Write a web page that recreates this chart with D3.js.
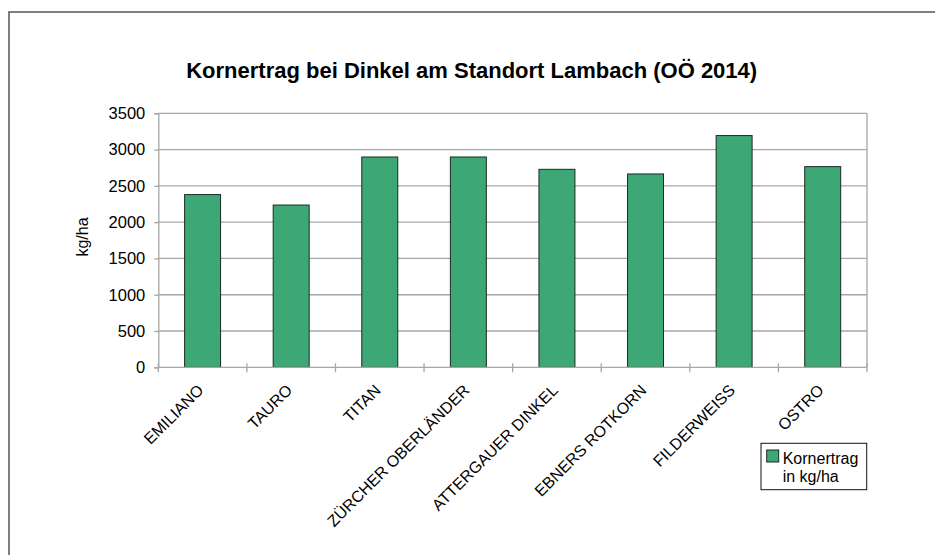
<!DOCTYPE html>
<html>
<head>
<meta charset="utf-8">
<script src="https://cdn.jsdelivr.net/npm/d3@7"></script>
<style>
  html, body { margin: 0; padding: 0; background: #fff; }
  svg { display: block; font-family: "Liberation Sans", Arial, sans-serif; }
</style>
</head>
<body>
<svg id="chart" width="935" height="555"></svg>
<script>
const categories = ["EMILIANO", "TAURO", "TITAN", "ZÜRCHER OBERLÄNDER", "ATTERGAUER DINKEL", "EBNERS ROTKORN", "FILDERWEISS", "OSTRO"];
const values = [2380, 2236, 2898, 2898, 2728, 2664, 3193, 2765];
const yTicks = [0, 500, 1000, 1500, 2000, 2500, 3000, 3500];
const title = "Kornertrag bei Dinkel am Standort Lambach (OÖ 2014)";
const yLabel = "kg/ha";
const legendLines = ["Kornertrag", "in kg/ha"];

const svg = d3.select("#chart");
const plot = { left: 158.3, right: 867, top: 113.3, bottom: 367.3 };

// outer frame (extends beyond viewport on right/bottom)
svg.append("rect")
  .attr("x", 9).attr("y", 12).attr("width", 960).attr("height", 600)
  .attr("fill", "none").attr("stroke", "#555").attr("stroke-width", 1.5);

svg.append("text")
  .attr("x", 471.7).attr("y", 77.5)
  .attr("text-anchor", "middle")
  .attr("font-size", 22).attr("font-weight", "bold").attr("fill", "#000")
  .text(title);

const x = d3.scaleBand().domain(categories).range([plot.left, plot.right])
  .paddingInner(0.594).paddingOuter(0.297);
const y = d3.scaleLinear().domain([0, 3500]).range([plot.bottom, plot.top]);

// gridlines
svg.append("g").selectAll("line").data(yTicks.filter(d => d > 0)).join("line")
  .attr("x1", plot.left).attr("x2", plot.right)
  .attr("y1", d => y(d)).attr("y2", d => y(d))
  .attr("stroke", "#a6a6a6").attr("stroke-width", 1.3);

// right border of plot area
svg.append("line")
  .attr("x1", plot.right).attr("x2", plot.right)
  .attr("y1", plot.top).attr("y2", plot.bottom)
  .attr("stroke", "#a6a6a6").attr("stroke-width", 1.3);

// y axis
const yAxis = d3.axisLeft(y).tickValues(yTicks).tickFormat(d3.format("d")).tickSize(4).tickPadding(9);
const gy = svg.append("g").attr("transform", `translate(${plot.left},0)`).call(yAxis);
gy.select(".domain").attr("stroke", "#a6a6a6").attr("stroke-width", 1.3);
gy.selectAll(".tick line").attr("stroke", "#a6a6a6").attr("stroke-width", 1.3);
gy.selectAll(".tick text").attr("font-size", 16.5).attr("fill", "#000")
  .attr("font-family", "'Liberation Sans', Arial, sans-serif");

// bars
svg.append("g").selectAll("rect").data(values).join("rect")
  .attr("x", (d, i) => x(categories[i]))
  .attr("width", x.bandwidth())
  .attr("y", d => y(d))
  .attr("height", d => y(0) - y(d))
  .attr("fill", "#3da876")
  .attr("stroke", "#1b2a20").attr("stroke-width", 1);

// x axis
const step = x.step();
const boundaries = d3.range(categories.length + 1).map(i => plot.left + i * step);
svg.append("line")
  .attr("x1", plot.left).attr("x2", plot.right)
  .attr("y1", plot.bottom).attr("y2", plot.bottom)
  .attr("stroke", "#a6a6a6").attr("stroke-width", 1.3);
svg.append("g").selectAll("line").data(boundaries).join("line")
  .attr("x1", d => d).attr("x2", d => d)
  .attr("y1", plot.bottom - 4).attr("y2", plot.bottom + 5)
  .attr("stroke", "#a6a6a6").attr("stroke-width", 1.3);

svg.append("g").selectAll("text").data(categories).join("text")
  .attr("transform", d => `translate(${x(d) + x.bandwidth() / 2 + 2},${plot.bottom + 24}) rotate(-45)`)
  .attr("text-anchor", "end")
  .attr("font-size", 16).attr("fill", "#000")
  .text(d => d);

// y label
svg.append("text")
  .attr("transform", "translate(88,237) rotate(-90)")
  .attr("text-anchor", "middle")
  .attr("font-size", 16).attr("fill", "#000")
  .text(yLabel);

// legend
const lg = svg.append("g");
lg.append("rect").attr("x", 761).attr("y", 443.3).attr("width", 105.7).attr("height", 46.4)
  .attr("fill", "#fff").attr("stroke", "#111").attr("stroke-width", 1);
lg.append("rect").attr("x", 766.7).attr("y", 450).attr("width", 12).attr("height", 12)
  .attr("fill", "#3da876").attr("stroke", "#1b2a20").attr("stroke-width", 1);
lg.selectAll("text.l").data(legendLines).join("text")
  .attr("x", 782.7).attr("y", (d, i) => 463.5 + i * 18.5)
  .attr("font-size", 16).attr("fill", "#000")
  .text(d => d);
</script>
</body>
</html>
